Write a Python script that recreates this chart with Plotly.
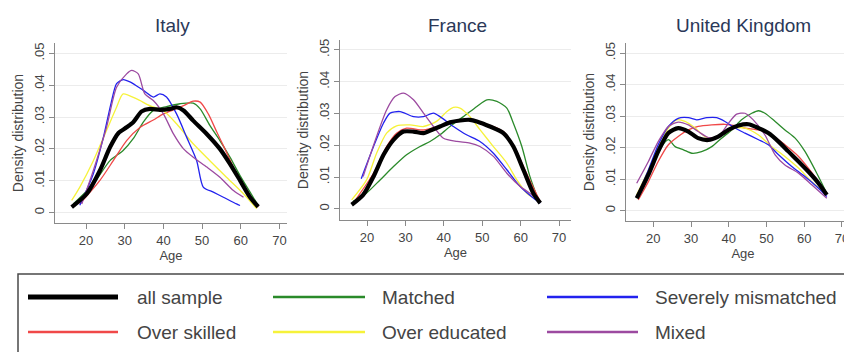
import plotly.graph_objects as go

# ---------------- data (age, density) ----------------
COUNTRIES = ["Italy", "France", "United Kingdom"]
SERIES = ["all sample", "Matched", "Severely mismatched", "Over skilled", "Over educated", "Mixed"]
Y_TICKS = [0, 0.01, 0.02, 0.03, 0.04, 0.05]
Y_TICK_LABELS = ["0", ".01", ".02", ".03", ".04", ".05"]
X_TICKS = [20, 30, 40, 50, 60, 70]

# Italy
IT_ALL_X = [16.3, 20.2, 23.6, 26.2, 28.4, 30.5, 32.2, 34.4, 36.5, 39.1, 41.7, 43.4, 45.2, 47.7, 51.2, 54.6, 57.2, 59.8, 62.4, 64.5]
IT_ALL_Y = [0.0017, 0.0059, 0.0132, 0.0205, 0.0250, 0.0268, 0.0284, 0.0318, 0.0326, 0.0323, 0.0326, 0.0331, 0.0321, 0.0289, 0.0247, 0.0200, 0.0153, 0.0101, 0.0048, 0.0018]
IT_MAT_X = [16.7, 21.9, 26.2, 29.6, 32.2, 34.8, 37.4, 40.8, 44.3, 47.7, 49.5, 52.0, 54.6, 57.2, 59.8, 62.4, 64.5]
IT_MAT_Y = [0.0027, 0.0090, 0.0163, 0.0195, 0.0232, 0.0284, 0.0321, 0.0333, 0.0342, 0.0344, 0.0326, 0.0274, 0.0226, 0.0174, 0.0116, 0.0064, 0.0022]
IT_SEV_X = [18.4, 21.9, 24.5, 26.5, 27.9, 29.6, 31.5, 34.8, 37.4, 39.1, 40.8, 43.4, 46.0, 48.6, 50.3, 52.9, 55.5, 58.9, 59.8]
IT_SEV_Y = [0.0023, 0.0122, 0.0237, 0.0345, 0.0405, 0.0418, 0.0410, 0.0384, 0.0363, 0.0373, 0.0363, 0.0310, 0.0237, 0.0163, 0.0080, 0.0064, 0.0048, 0.0027, 0.0022]
IT_OSK_X = [18.4, 23.6, 27.1, 30.5, 34.0, 37.4, 40.0, 42.6, 45.2, 47.7, 49.5, 51.6, 53.8, 55.9, 58.1, 60.7, 63.2, 64.5]
IT_OSK_Y = [0.0027, 0.0101, 0.0164, 0.0226, 0.0268, 0.0291, 0.0310, 0.0323, 0.0336, 0.0350, 0.0347, 0.0310, 0.0253, 0.0200, 0.0142, 0.0080, 0.0038, 0.0017]
IT_OED_X = [16.3, 18.4, 21.9, 25.3, 27.9, 29.6, 33.1, 36.5, 40.0, 43.4, 47.7, 52.0, 56.3, 60.7, 64.1]
IT_OED_Y = [0.0038, 0.0080, 0.0163, 0.0258, 0.0331, 0.0373, 0.0357, 0.0336, 0.0320, 0.0279, 0.0216, 0.0163, 0.0111, 0.0059, 0.0012]
IT_MIX_X = [18.9, 21.9, 25.3, 27.9, 30.5, 31.8, 33.5, 35.2, 37.4, 40.0, 42.6, 45.2, 47.7, 51.2, 54.6, 58.1, 60.7]
IT_MIX_Y = [0.0027, 0.0132, 0.0268, 0.0394, 0.0436, 0.0447, 0.0436, 0.0373, 0.0352, 0.0310, 0.0247, 0.0200, 0.0174, 0.0143, 0.0111, 0.0069, 0.0048]

# France
FR_ALL_X = [16.0, 19.0, 21.7, 24.3, 26.9, 29.5, 32.1, 34.7, 36.8, 39.0, 41.6, 44.2, 46.8, 48.6, 52.0, 55.5, 58.1, 60.7, 63.3, 65.1]
FR_ALL_Y = [0.0013, 0.0044, 0.0102, 0.0170, 0.0217, 0.0243, 0.0243, 0.0238, 0.0248, 0.0259, 0.0272, 0.0278, 0.0280, 0.0275, 0.0259, 0.0238, 0.0196, 0.0123, 0.0049, 0.0018]
FR_MAT_X = [16.4, 19.9, 23.4, 26.9, 30.3, 33.8, 36.4, 39.0, 41.6, 45.1, 48.6, 51.2, 53.8, 56.4, 58.1, 60.3, 62.4, 64.6]
FR_MAT_Y = [0.0024, 0.0050, 0.0091, 0.0133, 0.0170, 0.0196, 0.0212, 0.0233, 0.0259, 0.0290, 0.0322, 0.0343, 0.0338, 0.0317, 0.0269, 0.0196, 0.0102, 0.0028]
FR_SEV_X = [18.5, 21.7, 24.3, 26.0, 28.6, 32.1, 34.7, 37.3, 39.0, 42.5, 45.9, 49.4, 52.9, 56.4, 59.8, 63.3, 65.1]
FR_SEV_Y = [0.0095, 0.0196, 0.0270, 0.0301, 0.0306, 0.0290, 0.0290, 0.0301, 0.0290, 0.0259, 0.0233, 0.0212, 0.0175, 0.0123, 0.0071, 0.0034, 0.0018]
FR_OSK_X = [16.4, 21.7, 25.1, 27.7, 30.3, 34.7, 39.0, 42.5, 46.0, 49.4, 52.9, 55.5, 58.1, 61.1, 64.2, 65.1]
FR_OSK_Y = [0.0018, 0.0112, 0.0196, 0.0238, 0.0254, 0.0248, 0.0261, 0.0275, 0.0278, 0.0270, 0.0259, 0.0243, 0.0201, 0.0123, 0.0044, 0.0023]
FR_OED_X = [16.0, 19.9, 22.5, 25.1, 27.7, 31.2, 34.7, 38.1, 40.8, 42.5, 44.2, 46.8, 49.4, 52.9, 56.4, 59.0, 61.6, 64.2]
FR_OED_Y = [0.0028, 0.0091, 0.0175, 0.0238, 0.0261, 0.0264, 0.0259, 0.0275, 0.0306, 0.0319, 0.0317, 0.0290, 0.0249, 0.0196, 0.0144, 0.0091, 0.0049, 0.0028]
FR_MIX_X = [19.0, 22.5, 25.1, 27.3, 29.5, 32.1, 34.7, 37.3, 39.9, 43.4, 46.8, 49.4, 52.9, 56.4, 59.8, 62.4, 65.1]
FR_MIX_Y = [0.0102, 0.0228, 0.0311, 0.0353, 0.0364, 0.0343, 0.0301, 0.0259, 0.0222, 0.0212, 0.0207, 0.0196, 0.0165, 0.0112, 0.0071, 0.0049, 0.0023]

# United Kingdom
UK_ALL_X = [15.6, 18.7, 21.3, 24.0, 26.6, 29.3, 31.9, 34.6, 37.2, 39.9, 42.6, 45.2, 47.9, 50.5, 53.2, 55.8, 58.5, 61.1, 63.8, 66.0]
UK_ALL_Y = [0.0039, 0.0114, 0.0188, 0.0246, 0.0262, 0.0251, 0.0230, 0.0224, 0.0235, 0.0256, 0.0270, 0.0274, 0.0262, 0.0246, 0.0219, 0.0188, 0.0156, 0.0124, 0.0087, 0.0050]
UK_MAT_X = [15.6, 18.7, 21.3, 24.0, 25.8, 28.0, 30.2, 32.8, 35.5, 38.1, 40.8, 43.4, 46.1, 47.9, 49.6, 52.3, 54.9, 57.6, 60.2, 62.9, 66.0]
UK_MAT_Y = [0.0039, 0.0124, 0.0188, 0.0225, 0.0203, 0.0193, 0.0182, 0.0187, 0.0203, 0.0230, 0.0256, 0.0288, 0.0309, 0.0317, 0.0309, 0.0283, 0.0256, 0.0230, 0.0188, 0.0129, 0.0055]
UK_SEV_X = [15.6, 18.7, 21.3, 24.0, 26.6, 29.3, 31.5, 34.2, 36.8, 39.0, 41.7, 44.3, 47.9, 50.5, 53.2, 56.7, 60.2, 63.8, 66.0]
UK_SEV_Y = [0.0045, 0.0129, 0.0209, 0.0267, 0.0293, 0.0295, 0.0288, 0.0295, 0.0295, 0.0283, 0.0262, 0.0246, 0.0225, 0.0209, 0.0177, 0.0140, 0.0108, 0.0071, 0.0045]
UK_OSK_X = [16.0, 18.7, 21.3, 24.0, 26.6, 29.3, 31.9, 35.5, 39.0, 41.7, 44.3, 47.9, 51.4, 54.9, 58.5, 61.1, 63.8, 66.0]
UK_OSK_Y = [0.0034, 0.0092, 0.0156, 0.0209, 0.0235, 0.0256, 0.0267, 0.0272, 0.0274, 0.0270, 0.0262, 0.0256, 0.0240, 0.0209, 0.0172, 0.0135, 0.0092, 0.0055]
UK_OED_X = [15.6, 18.7, 21.3, 24.0, 26.2, 28.4, 31.1, 33.7, 36.4, 39.0, 41.7, 44.3, 47.9, 51.4, 54.9, 58.5, 62.0, 65.5]
UK_OED_Y = [0.0050, 0.0129, 0.0198, 0.0262, 0.0288, 0.0283, 0.0262, 0.0235, 0.0230, 0.0246, 0.0262, 0.0262, 0.0240, 0.0203, 0.0172, 0.0135, 0.0092, 0.0055]
UK_MIX_X = [15.6, 18.7, 21.3, 24.0, 26.6, 29.3, 31.9, 34.6, 37.2, 39.9, 42.1, 44.3, 46.5, 49.6, 52.3, 54.9, 58.5, 62.0, 66.0]
UK_MIX_Y = [0.0087, 0.0156, 0.0219, 0.0267, 0.0281, 0.0272, 0.0251, 0.0232, 0.0235, 0.0277, 0.0306, 0.0309, 0.0288, 0.0240, 0.0177, 0.0145, 0.0119, 0.0082, 0.0039]

# ---------------- styling ----------------
W, H = 852, 352
OX, OY = 8, 8  # page body margin offset of the figure in the window

def fx(px):
    return (px - OX) / W

def fy(py):
    return 1 - (py - OY) / H

COLORS = {
    "all sample": "#000000",
    "Matched": "#2a8a2a",
    "Severely mismatched": "#2222ee",
    "Over skilled": "#f04848",
    "Over educated": "#f6f23a",
    "Mixed": "#9c4aa0",
}
WIDTHS = {"all sample": 4.2}
DRAW_ORDER = ["Matched", "Over skilled", "Over educated", "Severely mismatched", "Mixed", "all sample"]

DATA = {
    "Italy": {"all sample": (IT_ALL_X, IT_ALL_Y), "Matched": (IT_MAT_X, IT_MAT_Y),
              "Severely mismatched": (IT_SEV_X, IT_SEV_Y), "Over skilled": (IT_OSK_X, IT_OSK_Y),
              "Over educated": (IT_OED_X, IT_OED_Y), "Mixed": (IT_MIX_X, IT_MIX_Y)},
    "France": {"all sample": (FR_ALL_X, FR_ALL_Y), "Matched": (FR_MAT_X, FR_MAT_Y),
               "Severely mismatched": (FR_SEV_X, FR_SEV_Y), "Over skilled": (FR_OSK_X, FR_OSK_Y),
               "Over educated": (FR_OED_X, FR_OED_Y), "Mixed": (FR_MIX_X, FR_MIX_Y)},
    "United Kingdom": {"all sample": (UK_ALL_X, UK_ALL_Y), "Matched": (UK_MAT_X, UK_MAT_Y),
                       "Severely mismatched": (UK_SEV_X, UK_SEV_Y), "Over skilled": (UK_OSK_X, UK_OSK_Y),
                       "Over educated": (UK_OED_X, UK_OED_Y), "Mixed": (UK_MIX_X, UK_MIX_Y)},
}

# panel geometry in window pixels: (left, right), (bottom, top), x range, y range
PANELS = [
    dict(px=(55, 287), py=(223, 43), xr=(11.99, 71.94), yr=(-0.0033, 0.0533), tx=172),
    dict(px=(340, 571), py=(220, 40), xr=(12.97, 73.1), yr=(-0.0035, 0.0531), tx=457),
    dict(px=(626, 860), py=(221, 43), xr=(12.76, 74.8), yr=(-0.0033, 0.0532), tx=743),
]

FONT = "Liberation Sans, Arial, sans-serif"
AXIS_GRAY = "#8a8a8a"
TEXT_GRAY = "#444444"
TITLE_COLOR = "#2b3858"

fig = go.Figure()
layout = dict(
    width=W, height=H,
    margin=dict(l=0, r=0, t=0, b=0),
    paper_bgcolor="white", plot_bgcolor="white",
    showlegend=False,
    font=dict(family=FONT, color=TEXT_GRAY),
)

annotations = []
shapes = []
for i, (country, p) in enumerate(zip(COUNTRIES, PANELS)):
    n = "" if i == 0 else str(i + 1)
    xa, ya = "x" + n, "y" + n
    for s in DRAW_ORDER:
        xs, ys = DATA[country][s]
        fig.add_trace(go.Scatter(
            x=xs, y=ys, xaxis=xa, yaxis=ya, mode="lines", name=s,
            line=dict(color=COLORS[s], width=WIDTHS.get(s, 1.3), shape="spline", smoothing=0.7),
            hoverinfo="skip",
        ))
    xd = [fx(p["px"][0]), min(1.0, fx(p["px"][1]))]
    yd = [fy(p["py"][0]), fy(p["py"][1])]
    layout["xaxis" + n] = dict(
        domain=xd, range=list(p["xr"]), anchor=ya,
        tickvals=X_TICKS, ticks="outside", ticklen=5, tickcolor=AXIS_GRAY,
        showline=True, linecolor=AXIS_GRAY, linewidth=1, showgrid=False, zeroline=False,
        tickfont=dict(size=13, color=TEXT_GRAY),
        title=dict(text="Age", font=dict(size=13, color=TEXT_GRAY), standoff=0),
    )
    layout["yaxis" + n] = dict(
        domain=yd, range=list(p["yr"]), anchor=xa,
        tickvals=Y_TICKS, ticktext=Y_TICK_LABELS, tickangle=-90,
        ticks="outside", ticklen=5, tickcolor=AXIS_GRAY,
        showline=True, linecolor=AXIS_GRAY, linewidth=1,
        showgrid=True, gridcolor="#ececec", gridwidth=1, zeroline=False,
        tickfont=dict(size=13, color=TEXT_GRAY),
        title=dict(text="Density distribution", font=dict(size=14, color=TEXT_GRAY), standoff=4),
    )
    annotations.append(dict(
        text=country, xref="paper", yref="paper",
        x=fx(p["tx"]), y=fy(25),
        xanchor="center", yanchor="middle", showarrow=False,
        font=dict(size=19, color=TITLE_COLOR),
    ))

# legend box (manual, Stata-style)
shapes.append(dict(type="rect", xref="paper", yref="paper",
                   x0=fx(18), x1=fx(880), y0=fy(274), y1=fy(380),
                   line=dict(color="#4a4a4a", width=1.5), fillcolor="rgba(0,0,0,0)"))
LEG_POS = {
    "all sample": (28, 118, 135, 297),
    "Over skilled": (28, 118, 135, 332),
    "Matched": (273, 365, 380, 297),
    "Over educated": (273, 365, 380, 332),
    "Severely mismatched": (547, 638, 653, 297),
    "Mixed": (547, 638, 653, 332),
}
for s in SERIES:
    x0, x1, tx, yy = LEG_POS[s]
    shapes.append(dict(type="line", xref="paper", yref="paper",
                       x0=fx(x0), x1=fx(x1), y0=fy(yy), y1=fy(yy),
                       line=dict(color=COLORS[s], width=5 if s == "all sample" else 2.5)))
    annotations.append(dict(text=s, xref="paper", yref="paper", x=fx(tx), y=fy(yy),
                            xanchor="left", yanchor="middle", showarrow=False,
                            font=dict(size=19, color=TEXT_GRAY)))

layout["annotations"] = annotations
layout["shapes"] = shapes
fig.update_layout(**layout)
fig.write_html("out.html")
